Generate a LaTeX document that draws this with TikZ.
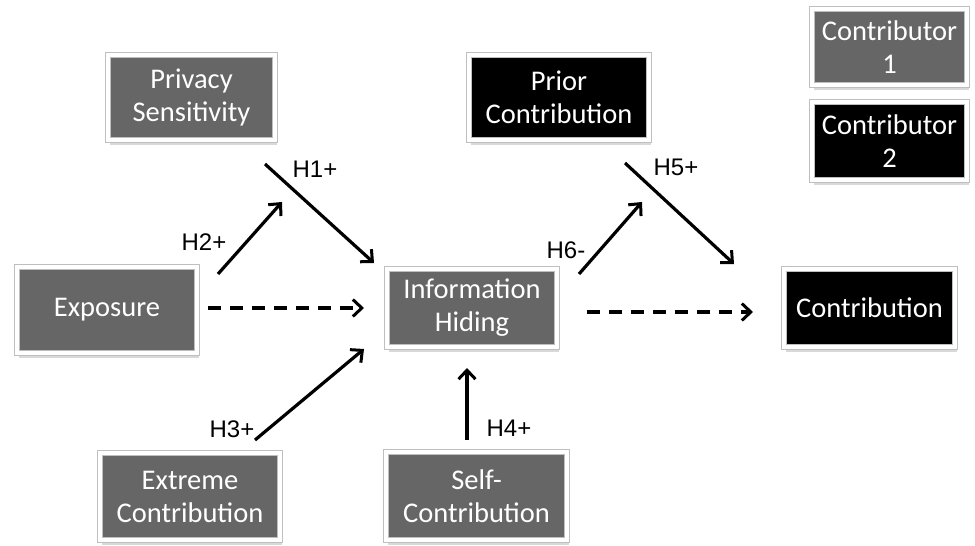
\documentclass[tikz,border=0pt]{standalone}
\usepackage{fontspec}
\setmainfont{Carlito}
\newfontfamily\lblfont{Liberation Sans}
\usetikzlibrary{arrows.meta,shadows}
\definecolor{boxgray}{HTML}{666666}
\tikzset{
  boxbase/.style={draw=black!25, line width=0.9pt, double=white, double distance=3.5pt,
    text=white, align=center, inner sep=0pt,
    font=\fontsize{28.5}{33}\selectfont,
    drop shadow={opacity=0.3, shadow xshift=1.5pt, shadow yshift=-4.5pt}},
  graybox/.style={boxbase, fill=boxgray},
  blackbox/.style={boxbase, fill=black},
  hyp/.style={font=\lblfont\fontsize{24}{26}\selectfont, inner sep=0pt},
  conn/.style={line width=3.2pt, -{Straight Barb[length=9pt,width=17pt,line width=3pt]}},
  dashconn/.style={conn, dash pattern=on 13pt off 9pt}
}
\begin{document}
\begin{tikzpicture}[x=1pt,y=-1pt]
\useasboundingbox (0,0) rectangle (975,546);
% boxes
\node[graybox, minimum width=167pt, minimum height=85pt] (priv) at (191.5,97.5) {Privacy\\Sensitivity};
\node[graybox, minimum width=180pt, minimum height=86pt] (expo) at (107,310) {Exposure};
\node[graybox, minimum width=170pt, minimum height=78pt] (hide) at (472,308) {Information\\Hiding};
\node[blackbox, minimum width=180pt, minimum height=85pt] (prior) at (559,97.5) {Prior\\Contribution};
\node[blackbox, minimum width=171pt, minimum height=78pt] (contr) at (869.5,308) {Contribution};
\node[graybox, minimum width=155pt, minimum height=76pt] (c1) at (889.5,47) {Contributor\\1};
\node[blackbox, minimum width=155pt, minimum height=78pt] (c2) at (889.5,141) {Contributor\\2};
\node[graybox, minimum width=180pt, minimum height=87pt] (extr) at (190,496.5) {Extreme\\Contribution};
\node[graybox, minimum width=181pt, minimum height=88pt] (self) at (476.5,496) {Self-\\Contribution};
% arrow end points
\coordinate (h1s) at (265,164);
\coordinate (h1e) at (374,263);
\coordinate (h2s) at (218,274);
\coordinate (h2e) at (282,202);
\coordinate (h3s) at (255,440);
\coordinate (h3e) at (364,349);
\coordinate (h4s) at (467,440);
\coordinate (h4e) at (467,368);
\coordinate (h5s) at (625,163);
\coordinate (h5e) at (734,264);
\coordinate (h6s) at (579,274);
\coordinate (h6e) at (642,202);
\coordinate (d1s) at (208,308);
\coordinate (d1e) at (364,308);
\coordinate (d2s) at (587,312);
\coordinate (d2e) at (753,312);
% connectors
\draw[conn] (h1s) -- (h1e);
\draw[conn] (h2s) -- (h2e);
\draw[conn] (h3s) -- (h3e);
\draw[conn] (h4s) -- (h4e);
\draw[conn] (h5s) -- (h5e);
\draw[conn] (h6s) -- (h6e);
\draw[dashconn] (d1s) -- (d1e);
\draw[dashconn] (d2s) -- (d2e);
% labels
\node[hyp] (l1) at (315,169) {H1+};
\node[hyp] (l2) at (204,242) {H2+};
\node[hyp] (l3) at (232,429) {H3+};
\node[hyp] (l4) at (509,428) {H4+};
\node[hyp] (l5) at (676,167) {H5+};
\node[hyp] (l6) at (566,250) {H6-};
\end{tikzpicture}
\end{document}
